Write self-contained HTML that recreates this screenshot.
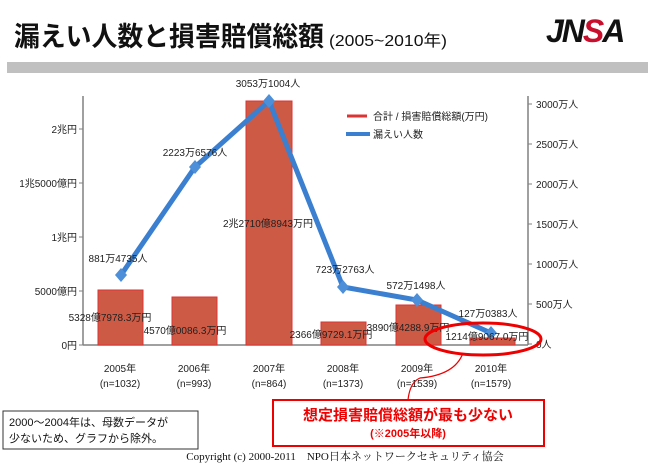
<!DOCTYPE html>
<html><head><meta charset="utf-8"><style>
body{margin:0;background:#fff;width:648px;height:465px;overflow:hidden}
text{font-family:"Liberation Sans","Noto Sans CJK JP",sans-serif}
</style></head><body>
<svg width="648" height="465" viewBox="0 0 648 465" xmlns="http://www.w3.org/2000/svg">
<text x="14" y="46" font-size="27" font-weight="bold" fill="#111" textLength="310" lengthAdjust="spacingAndGlyphs">漏えい人数と損害賠償総額</text>
<text x="329" y="46" font-size="16" fill="#111" textLength="118" lengthAdjust="spacingAndGlyphs">(2005~2010年)</text>
<text x="546" y="42" font-size="32" font-weight="900" font-style="italic" fill="#111" letter-spacing="-2">JN<tspan fill="#c8102e">S</tspan>A</text>
<rect x="7" y="62" width="641" height="11" fill="#c0c0c0"/>
<line x1="83" y1="96" x2="83" y2="345" stroke="#808080" stroke-width="1.5"/>
<line x1="83" y1="345" x2="528" y2="345" stroke="#808080" stroke-width="1.5"/>
<line x1="528" y1="96" x2="528" y2="345" stroke="#808080" stroke-width="1.5"/>
<g stroke="#808080"><line x1="79" y1="129" x2="83" y2="129"/><line x1="79" y1="183" x2="83" y2="183"/><line x1="79" y1="237" x2="83" y2="237"/><line x1="79" y1="291" x2="83" y2="291"/><line x1="79" y1="345" x2="83" y2="345"/>
<line x1="528" y1="104" x2="532" y2="104"/><line x1="528" y1="144" x2="532" y2="144"/><line x1="528" y1="184" x2="532" y2="184"/><line x1="528" y1="224" x2="532" y2="224"/><line x1="528" y1="264" x2="532" y2="264"/><line x1="528" y1="304" x2="532" y2="304"/><line x1="528" y1="344" x2="532" y2="344"/></g>
<g font-size="10" fill="#222" text-anchor="end"><text x="77" y="133">2兆円</text><text x="77" y="187">1兆5000億円</text><text x="77" y="241">1兆円</text><text x="77" y="295">5000億円</text><text x="77" y="349">0円</text></g>
<g font-size="10" fill="#222"><text x="536" y="108">3000万人</text><text x="536" y="148">2500万人</text><text x="536" y="188">2000万人</text><text x="536" y="228">1500万人</text><text x="536" y="268">1000万人</text><text x="536" y="308">500万人</text><text x="536" y="348">0人</text></g>
<g fill="#cd5a45" stroke="#d33" stroke-width="1">
<rect x="98" y="290" width="45" height="55"/><rect x="172" y="297" width="45" height="48"/><rect x="246" y="101" width="46" height="244"/><rect x="321" y="322" width="45" height="23"/><rect x="396" y="305" width="45" height="40"/><rect x="470" y="338" width="45" height="7"/></g>
<polyline points="121,275 195,167 269,101 343,287 417,300 491,333" fill="none" stroke="#3a7fd0" stroke-width="5"/>
<g fill="#4d8fd8"><path d="M121,268l6,7l-6,7l-6,-7z"/><path d="M195,160l6,7l-6,7l-6,-7z"/><path d="M269,94l6,7l-6,7l-6,-7z"/><path d="M343,280l6,7l-6,7l-6,-7z"/><path d="M417,293l6,7l-6,7l-6,-7z"/><path d="M491,326l6,7l-6,7l-6,-7z"/></g>
<g font-size="10" fill="#222" text-anchor="middle">
<text x="118" y="262">881万4735人</text><text x="195" y="156">2223万6576人</text><text x="268" y="87">3053万1004人</text>
<text x="268" y="227">2兆2710億8943万円</text><text x="345" y="273">723万2763人</text><text x="416" y="289">572万1498人</text><text x="488" y="317">127万0383人</text>
<text x="110" y="321">5328億7978.3万円</text><text x="185" y="334">4570億0086.3万円</text><text x="331" y="338">2366億9729.1万円</text><text x="408" y="331">3890億4288.9万円</text><text x="487" y="340">1214億9067.0万円</text></g>
<line x1="347" y1="116" x2="367" y2="116" stroke="#d33" stroke-width="3"/>
<text x="373" y="120" font-size="10" fill="#222">合計 / 損害賠償総額(万円)</text>
<line x1="346" y1="134" x2="370" y2="134" stroke="#3a7fd0" stroke-width="4"/>
<text x="373" y="138" font-size="10" fill="#222">漏えい人数</text>
<g font-size="10" fill="#222" text-anchor="middle">
<text x="120" y="372">2005年</text><text x="120" y="387">(n=1032)</text>
<text x="194" y="372">2006年</text><text x="194" y="387">(n=993)</text>
<text x="269" y="372">2007年</text><text x="269" y="387">(n=864)</text>
<text x="343" y="372">2008年</text><text x="343" y="387">(n=1373)</text>
<text x="417" y="372">2009年</text><text x="417" y="387">(n=1539)</text>
<text x="491" y="372">2010年</text><text x="491" y="387">(n=1579)</text></g>
<ellipse cx="483" cy="339" rx="58" ry="16" fill="none" stroke="#e00" stroke-width="3"/>
<path d="M463,353 Q455,375 420,378 Q410,382 408,400" fill="none" stroke="#e00" stroke-width="1.2"/>
<rect x="273" y="400" width="271" height="46" fill="#fff" stroke="#e00" stroke-width="2"/>
<text x="408" y="420" font-size="15" font-weight="bold" fill="#e00" text-anchor="middle">想定損害賠償総額が最も少ない</text>
<text x="408" y="437" font-size="11" font-weight="bold" fill="#e00" text-anchor="middle">(※2005年以降)</text>
<rect x="3" y="411" width="195" height="38" fill="#fff" stroke="#333" stroke-width="1"/>
<text x="9" y="426" font-size="11" fill="#111">2000～2004年は、母数データが</text>
<text x="9" y="442" font-size="11" fill="#111">少ないため、グラフから除外。</text>
<text x="345" y="460" font-size="11" fill="#111" text-anchor="middle" style="font-family:'Liberation Serif','Noto Serif CJK SC',serif">Copyright (c) 2000-2011　NPO日本ネットワークセキュリティ協会</text>
</svg>
</body></html>
